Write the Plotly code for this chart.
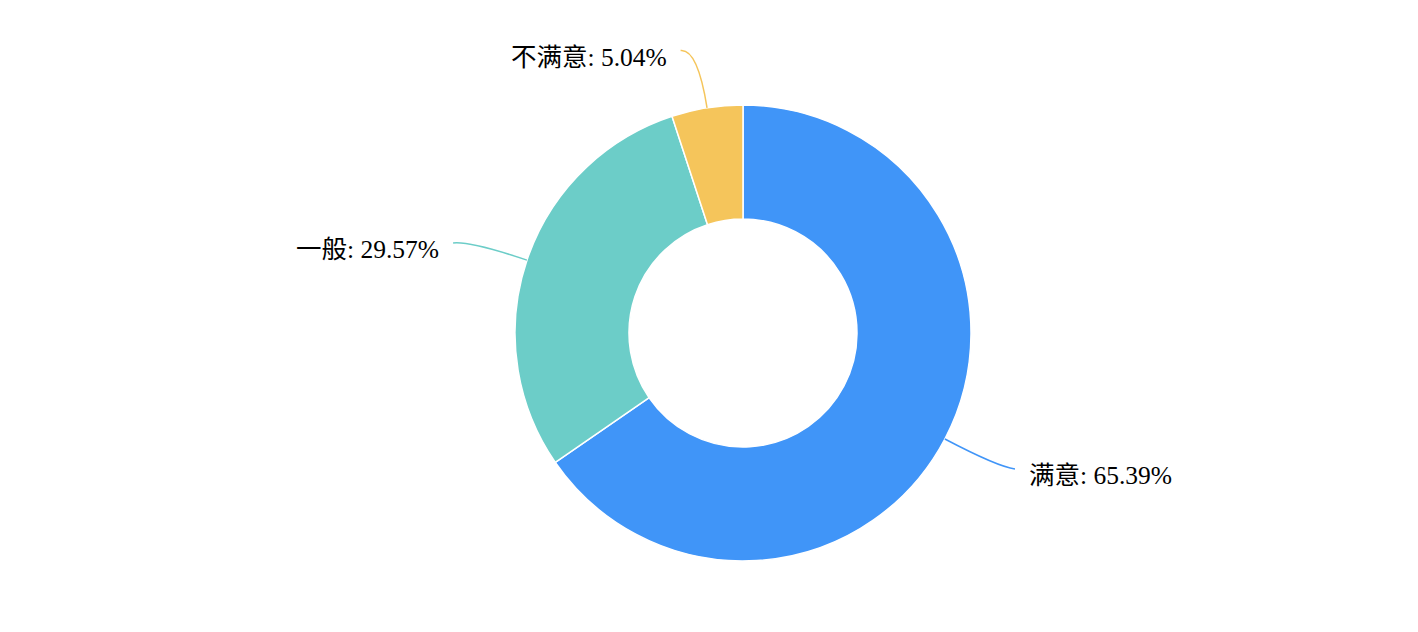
import math
import plotly.graph_objects as go

labels = ["满意", "一般", "不满意"]
values = [65.39, 29.57, 5.04]
colors = ["#4095f8", "#6ccdc8", "#f5c55b"]

W, H = 1418, 632
PAD = 8                      # browser body margin around the plot div
cx, cy, R = 743, 333, 228    # pie centre and outer radius in window pixels
FW, FH = W - 2 * PAD, H - 2 * PAD


def to_paper(px, py):
    return (px - PAD) / FW, 1 - (py - PAD) / FH


fig = go.Figure()

x0, y0 = to_paper(cx - R, cy + R)
x1, y1 = to_paper(cx + R, cy - R)
fig.add_trace(go.Pie(
    labels=labels,
    values=values,
    hole=0.5,
    sort=False,
    direction="clockwise",
    rotation=0,
    textinfo="none",
    hoverinfo="label+percent",
    marker=dict(colors=colors, line=dict(color="white", width=1.5)),
    domain=dict(x=[x0, x1], y=[y0, y1]),
    showlegend=False,
))

# leader lines + outside labels, placed from each slice's mid angle
total = sum(values)
acc = 0
shapes, annotations = [], []
for lab, val, col in zip(labels, values, colors):
    mid = (acc + val / 2) / total * 2 * math.pi
    acc += val
    dx, dy = math.sin(mid), -math.cos(mid)
    side = 1 if dx >= 0 else -1
    p0 = (cx + R * dx, cy + R * dy)
    p1 = (cx + (R + 60) * dx, cy + (R + 60) * dy)
    p2 = (p1[0] + side * 17, p1[1] + 2)
    a, b, c = to_paper(*p0), to_paper(*p1), to_paper(*p2)
    shapes.append(dict(
        type="path", xref="paper", yref="paper",
        path=f"M {a[0]},{a[1]} Q {b[0]},{b[1]} {c[0]},{c[1]}",
        line=dict(color=col, width=1.5),
    ))
    tx, ty = to_paper(p2[0] + side * 12, p2[1] + 7)
    annotations.append(dict(
        x=tx, y=ty, xref="paper", yref="paper",
        text=f"{lab}: {val:.2f}%",
        showarrow=False,
        xanchor="left" if side > 0 else "right",
        yanchor="middle",
        font=dict(family="Liberation Serif, Noto Sans CJK SC, serif", size=25.5, color="#000000"),
    ))

fig.update_layout(
    width=FW, height=FH,
    margin=dict(l=0, r=0, t=0, b=0),
    paper_bgcolor="white",
    plot_bgcolor="white",
    shapes=shapes,
    annotations=annotations,
)

fig.write_html("out.html")
